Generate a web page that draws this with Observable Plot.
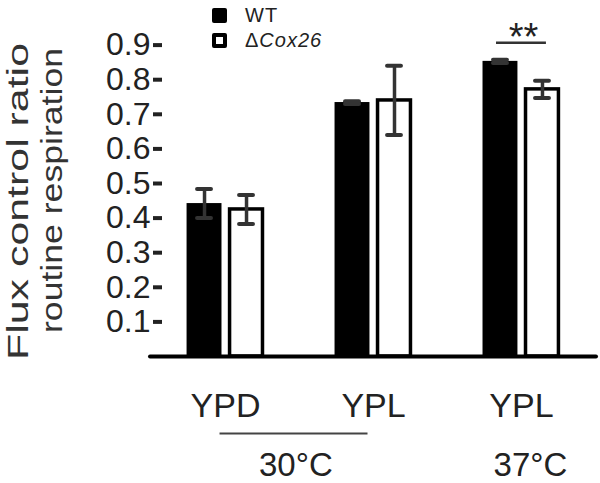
<!DOCTYPE html>
<html><head><meta charset="utf-8">
<script src="https://cdn.jsdelivr.net/npm/d3@7"></script>
<script src="https://cdn.jsdelivr.net/npm/@observablehq/plot@0.6"></script>
<style>
body{margin:0;background:#fff;font-family:"Liberation Sans",Arial,sans-serif;}
#wrap{position:relative;width:600px;height:483px;overflow:hidden;background:#fff;}
#wrap svg{position:absolute;left:0;top:0;}
.leg{position:absolute;left:212px;display:flex;align-items:center;font-size:20px;color:#222;}
.sw{width:15px;height:15px;box-sizing:border-box;border-radius:2px;margin-right:18px;}
</style></head><body>
<div id="wrap"></div>
<script>
// ---- data ----
const groups = ["YPD 30", "YPL 30", "YPL 37"];
const groupLabels = ["YPD", "YPL", "YPL"];
const genotypes = ["WT", "ΔCox26"];
const wtMean = [0.442, 0.734, 0.853];
const wtErr  = [0.042, 0.004, 0.005];
const koMean = [0.425, 0.740, 0.772];
const koErr  = [0.042, 0.100, 0.025];
const yTicks = [0.1, 0.2, 0.3, 0.4, 0.5, 0.6, 0.7, 0.8, 0.9];
const tempLabels = ["30°C", "37°C"];
const tempFrom = ["YPD 30", "YPL 37"];
const tempTo   = ["YPL 30", "YPL 37"];
const sigGroup = "YPL 37";
const sigText = "**";
const sigLevel = 0.907;
const yTitle = ["Flux control ratio", "routine respiration"];

// ---- build ----
const wtData = groups.map((g, i) => ({group: g, value: wtMean[i], lo: wtMean[i] - wtErr[i], hi: wtMean[i] + wtErr[i]}));
const koData = groups.map((g, i) => ({group: g, value: koMean[i], lo: koMean[i] - koErr[i], hi: koMean[i] + koErr[i]}));

const W = 600, H = 483;
const xOpts = {domain: groups, paddingInner: 0.764, paddingOuter: 0.389, round: false};
const xs = Plot.scale({x: {...xOpts, range: [150, W - 4]}});
const half = (a, b) => (xs.apply(b) - xs.apply(a)) / 2;
const off = 21;
const font = '"Liberation Sans", Arial, sans-serif';

const errMarks = (data, dx) => [
  Plot.ruleX(data, {x: "group", y1: "lo", y2: "hi", dx, stroke: "#333", strokeWidth: 3.5}),
  Plot.tickY(data, {x: "group", y: "hi", dx, insetLeft: 10.5, insetRight: 10.5, stroke: "#333", strokeWidth: 4, strokeLinecap: "round"}),
  Plot.tickY(data, {x: "group", y: "lo", dx, insetLeft: 10.5, insetRight: 10.5, stroke: "#333", strokeWidth: 4, strokeLinecap: "round"})
];

const tempData = tempLabels.map((t, i) => ({label: t, from: tempFrom[i], to: tempTo[i], y: 0}));

const plot = Plot.plot({
  width: W, height: H,
  marginLeft: 150, marginRight: 4, marginTop: 10, marginBottom: 127,
  style: {fontFamily: font, background: "transparent", overflow: "visible", color: "#222"},
  x: {...xOpts, axis: null},
  y: {domain: [0, 1], axis: null},
  marks: [
    Plot.barY(wtData, {x: "group", y: "value", fill: "black", dx: -off}),
    Plot.barY(koData, {x: "group", y: "value", fill: "white", stroke: "black", strokeWidth: 3.5, dx: off, insetLeft: 1, insetRight: 1}),
    ...errMarks(wtData, -off),
    ...errMarks(koData, off),
    Plot.ruleY([0], {stroke: "black", strokeWidth: 4, strokeLinecap: "round"}),
    Plot.axisY({ticks: yTicks, tickFormat: ".1f", tickSize: 9, tickPadding: 3, dx: 12, strokeWidth: 4, fontSize: 32, label: null, fill: "#222", stroke: "#222"}),
    Plot.axisX({tickSize: 0, tickPadding: 36, fontSize: 34, tickFormat: d => groupLabels[groups.indexOf(d)], label: null, fill: "#222"}),
    // significance
    Plot.tickY([{group: sigGroup, y: sigLevel}], {x: "group", y: "y", insetLeft: -7.5, insetRight: -7.5, stroke: "#333", strokeWidth: 2.5}),
    Plot.text([{group: sigGroup, y: sigLevel, t: sigText}], {x: "group", y: "y", text: "t", fontSize: 38, lineAnchor: "bottom", dy: 7, dx: 2, fill: "#222"}),
    // temperature bracket + labels
    Plot.link(tempData.filter(d => d.from !== d.to), {x1: "from", x2: "to", y1: "y", y2: "y", dy: 77, dx: -6, stroke: "#444", strokeWidth: 2}),
    Plot.text([tempData[0]], {x: "from", y: "y", text: "label", dx: half(tempData[0].from, tempData[0].to) - 4, dy: 96, lineAnchor: "top", fontSize: 33, fill: "#222"}),
    Plot.text([tempData[1]], {x: "from", y: "y", text: "label", dx: half(tempData[1].from, tempData[1].to) + 9, dy: 96, lineAnchor: "top", fontSize: 33, fill: "#222"})
  ]
});

const wrap = document.getElementById("wrap");
wrap.appendChild(plot);

// rotated two-line y title
const svg = d3.select(plot);
const titleSpec = [{x: 28, cy: 201.5, len: 317}, {x: 62, cy: 190.5, len: 285}];
yTitle.forEach((t, i) => {
  svg.append("text")
    .attr("transform", `translate(${titleSpec[i].x},${titleSpec[i].cy}) rotate(-90)`)
    .attr("text-anchor", "middle")
    .attr("font-size", 29)
    .attr("fill", "#333")
    .attr("textLength", titleSpec[i].len)
    .attr("lengthAdjust", "spacingAndGlyphs")
    .text(t);
});

// legend
const legTops = [4, 29];
genotypes.forEach((g, i) => {
  const row = document.createElement("div");
  row.className = "leg";
  row.style.top = legTops[i] + "px";
  const sw = document.createElement("div");
  sw.className = "sw";
  if (i === 0) sw.style.background = "black";
  else { sw.style.background = "white"; sw.style.border = "4px solid black"; }
  row.appendChild(sw);
  const lab = document.createElement("span");
  if (g.startsWith("Δ")) lab.innerHTML = "Δ<i>" + g.slice(1) + "</i>";
  else lab.textContent = g;
  lab.style.letterSpacing = "1px";
  row.appendChild(lab);
  wrap.appendChild(row);
});
</script>
</body></html>
